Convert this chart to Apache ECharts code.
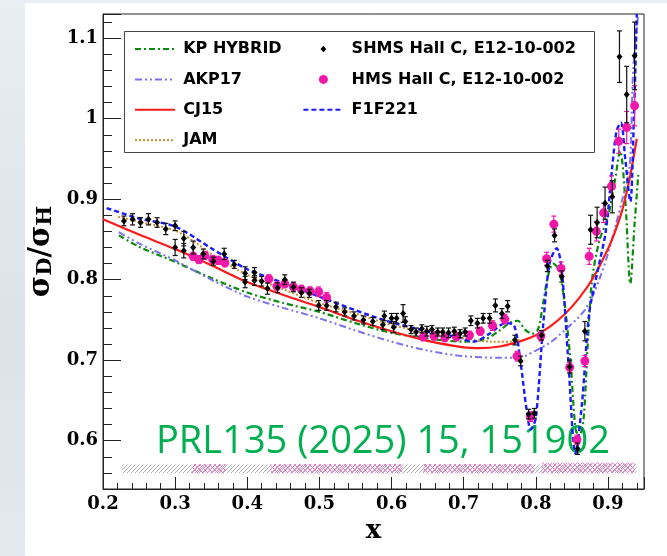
<!DOCTYPE html>
<html><head><meta charset="utf-8">
<script src="https://cdn.jsdelivr.net/npm/echarts@6.0.0/dist/echarts.min.js"></script>
<style>
html,body{margin:0;padding:0;width:667px;height:556px;overflow:hidden;background:linear-gradient(180deg,#e8eef2 0%,#dbe3e9 60%,#e3e9ee 100%);}
#chart{position:absolute;left:0;top:0;width:667px;height:556px;}
</style></head><body>
<div id="chart"></div>
<script>
// ---------------- data ----------------
const shmsX = [0.229,0.241,0.252,0.263,0.275,0.287,0.300,0.300,0.312,0.312,
  0.325,0.339,0.353,0.368,0.382,0.397,0.397,0.410,0.410,0.420,
  0.428,0.442,0.452,0.464,0.475,0.486,0.499,0.510,0.523,0.535,
  0.548,0.561,0.574,0.588,0.590,0.600,0.603,0.607,0.616,0.619,
  0.627,0.634,0.642,0.649,0.656,0.664,0.671,0.679,0.687,0.695,
  0.702,0.710,0.719,0.727,0.736,0.744,0.753,0.761,0.771,0.779,
  0.790,0.798,0.808,0.816,0.826,0.836,0.847,0.858,0.868,0.876,
  0.885,0.896,0.906,0.916,0.926,0.937];
const shmsY = [0.873,0.875,0.871,0.875,0.871,0.863,0.867,0.840,0.851,0.836,
  0.840,0.832,0.823,0.832,0.819,0.808,0.797,0.809,0.799,0.798,
  0.789,0.790,0.800,0.791,0.784,0.783,0.768,0.768,0.766,0.760,
  0.755,0.750,0.748,0.744,0.755,0.752,0.741,0.752,0.758,0.748,
  0.738,0.735,0.739,0.736,0.738,0.735,0.735,0.734,0.736,0.733,
  0.735,0.749,0.746,0.752,0.752,0.768,0.758,0.767,0.725,0.699,
  0.633,0.634,0.731,0.817,0.855,0.804,0.692,0.590,0.736,0.862,
  0.871,0.895,0.903,1.077,1.030,1.078];
const shmsErr = [0.006,0.007,0.006,0.007,0.006,0.007,0.006,0.010,0.009,0.009,
  0.008,0.006,0.005,0.007,0.005,0.008,0.007,0.006,0.006,0.006,
  0.007,0.006,0.006,0.006,0.006,0.005,0.006,0.006,0.006,0.005,
  0.005,0.005,0.005,0.006,0.006,0.006,0.007,0.006,0.011,0.006,
  0.005,0.005,0.005,0.006,0.005,0.005,0.005,0.006,0.005,0.005,
  0.005,0.006,0.006,0.006,0.006,0.008,0.006,0.007,0.006,0.006,
  0.006,0.006,0.006,0.007,0.008,0.007,0.008,0.007,0.012,0.018,
  0.019,0.020,0.020,0.032,0.035,0.042];

const hmsX = [0.325,0.333,0.341,0.352,0.360,0.369,0.430,0.441,0.452,0.464,
  0.475,0.487,0.499,0.510,0.644,0.659,0.674,0.690,0.708,0.723,
  0.740,0.757,0.774,0.793,0.807,0.815,0.825,0.835,0.847,0.857,
  0.868,0.874,0.884,0.894,0.905,0.915,0.926,0.937];
const hmsY = [0.829,0.825,0.830,0.825,0.824,0.821,0.801,0.792,0.795,0.791,
  0.788,0.786,0.785,0.778,0.729,0.730,0.728,0.729,0.731,0.736,
  0.743,0.751,0.705,0.630,0.730,0.826,0.869,0.814,0.691,0.601,
  0.699,0.829,0.860,0.883,0.916,0.972,0.989,1.016];
const hmsErr = [0.005,0.005,0.005,0.005,0.005,0.005,0.005,0.005,0.005,0.005,
  0.005,0.005,0.006,0.006,0.005,0.005,0.005,0.005,0.005,0.005,
  0.006,0.006,0.006,0.006,0.006,0.008,0.010,0.008,0.006,0.006,
  0.007,0.010,0.012,0.012,0.013,0.015,0.020,0.025];

// systematic bands (bins: start x, end x, height above base)
const sysBase = 0.5595;
const shmsSysX0 = [0.226,0.30,0.40,0.50,0.60,0.70,0.80,0.87];
const shmsSysX1 = [0.30,0.40,0.50,0.60,0.70,0.80,0.87,0.94];
const shmsSysH  = [0.011,0.011,0.011,0.011,0.011,0.011,0.011,0.012];
const hmsSysX0 = [0.323,0.432,0.644,0.808];
const hmsSysX1 = [0.370,0.615,0.798,0.937];
const hmsSysH  = [0.0115,0.0115,0.0115,0.0135];

// model curves
const kpX = [0.222,0.25,0.3,0.35,0.4,0.45,0.5,0.55,0.6,0.65,0.7,0.73,0.75,0.765,0.775,0.785,0.795,0.803,0.81,0.817,0.824,0.832,0.84,0.848,0.855,0.86,0.866,0.872,0.878,0.888,0.9,0.91,0.917,0.924,0.931,0.937,0.942];
const kpY = [0.855,0.841,0.822,0.802,0.784,0.771,0.760,0.746,0.734,0.727,0.723,0.726,0.737,0.747,0.749,0.738,0.733,0.738,0.770,0.805,0.820,0.812,0.770,0.700,0.615,0.605,0.625,0.720,0.800,0.848,0.878,0.925,0.960,0.900,0.795,0.870,0.930];

const akpX = [0.222,0.25,0.3,0.35,0.4,0.45,0.5,0.55,0.6,0.65,0.7,0.75,0.78,0.8,0.82,0.84,0.86,0.87,0.88,0.89,0.9,0.91,0.92,0.93,0.935,0.942];
const akpY = [0.859,0.845,0.824,0.800,0.779,0.765,0.752,0.737,0.723,0.712,0.705,0.703,0.704,0.712,0.722,0.737,0.754,0.765,0.782,0.805,0.832,0.865,0.900,0.940,1.060,1.130];

const cjX = [0.2,0.25,0.3,0.35,0.4,0.45,0.5,0.55,0.6,0.65,0.7,0.72,0.75,0.78,0.8,0.82,0.84,0.86,0.88,0.9,0.91,0.92,0.93,0.94];
const cjY = [0.875,0.856,0.838,0.818,0.797,0.781,0.766,0.750,0.736,0.724,0.716,0.715,0.717,0.724,0.731,0.742,0.757,0.777,0.803,0.838,0.860,0.887,0.925,0.975];

const jamX = [0.221,0.25,0.3,0.33,0.35,0.4,0.45,0.5,0.55,0.6,0.65,0.7,0.74,0.77,0.78];
const jamY = [0.878,0.872,0.861,0.845,0.832,0.806,0.788,0.771,0.758,0.744,0.734,0.727,0.723,0.723,0.726];

const f1X = [0.205,0.25,0.3,0.35,0.4,0.45,0.5,0.55,0.6,0.65,0.69,0.714,0.736,0.758,0.77,0.779,0.787,0.793,0.8,0.81,0.819,0.829,0.836,0.845,0.855,0.864,0.874,0.886,0.897,0.906,0.912,0.918,0.924,0.931,0.936,0.94];
const f1Y = [0.889,0.876,0.866,0.839,0.813,0.796,0.779,0.762,0.747,0.736,0.729,0.723,0.733,0.746,0.743,0.696,0.640,0.614,0.628,0.741,0.820,0.839,0.812,0.700,0.584,0.646,0.758,0.812,0.860,0.940,0.985,0.995,0.950,0.897,1.000,1.130];

// tick label values
const xTickLabels = [0.2,0.3,0.4,0.5,0.6,0.7,0.8,0.9];
const yTickLabels = [0.6,0.7,0.8,0.9,1.0,1.1];

// ---------------- helpers ----------------
const zip = (xs, ys) => xs.map((x, i) => [x, ys[i]]);
function makeHatch(color, cross, size) {
  const c = document.createElement('canvas');
  c.width = size; c.height = size;
  const g = c.getContext('2d');
  g.strokeStyle = color; g.lineWidth = 1;
  g.beginPath();
  g.moveTo(0, size); g.lineTo(size, 0);
  g.moveTo(-size, size); g.lineTo(size, -size);
  g.moveTo(0, 2*size); g.lineTo(2*size, 0);
  if (cross) {
    g.moveTo(0, 0); g.lineTo(size, size);
    g.moveTo(-size, 0); g.lineTo(size, 2*size);
    g.moveTo(0, -size); g.lineTo(2*size, size);
  }
  g.stroke();
  return c;
}
const grayHatch = makeHatch('rgba(120,120,120,0.6)', false, 4);
const pinkHatch = makeHatch('rgba(236,100,205,0.8)', true, 5);

function labelFmt(v) {
  const r = Math.round(v * 10);
  if (Math.abs(v * 10 - r) > 1e-6) return '';
  const show = xTickLabels.concat(yTickLabels).some(t => Math.abs(t - r / 10) < 1e-9);
  return show ? String(r / 10) : '';
}

function bandRender(pattern) {
  return function (params, api) {
    const x0 = api.value(0), x1 = api.value(1), h = api.value(2);
    const p0 = api.coord([x0, sysBase]);
    const p1 = api.coord([x1, sysBase + h]);
    return { type: 'rect',
      shape: { x: p0[0], y: p1[1], width: p1[0] - p0[0], height: p0[1] - p1[1] },
      style: { fill: { image: pattern, repeat: 'repeat' } } };
  };
}
function errRender(color, cap) {
  return function (params, api) {
    const x = api.value(0), y = api.value(1), e = api.value(2);
    const t = api.coord([x, y + e]);
    const b = api.coord([x, y - e]);
    const st = { stroke: color, lineWidth: 1.2 };
    return { type: 'group', children: [
      { type: 'line', shape: { x1: t[0], y1: t[1], x2: b[0], y2: b[1] }, style: st },
      { type: 'line', shape: { x1: t[0] - cap, y1: t[1], x2: t[0] + cap, y2: t[1] }, style: st },
      { type: 'line', shape: { x1: b[0] - cap, y1: b[1], x2: b[0] + cap, y2: b[1] }, style: st }
    ] };
  };
}

const SERIF = 'DejaVu Serif';
const SANS = 'DejaVu Sans';
const C_KP = '#0a8a0a', C_AKP = '#7c72f0', C_CJ = '#ff1a1a', C_JAM = '#c9902e', C_F1 = '#1a1aff';
const C_HMS = '#f217a8';

const chart = echarts.init(document.getElementById('chart'), null, { renderer: 'canvas' });
const axisLbl = { fontFamily: SERIF, fontWeight: 'bold', fontSize: 18, color: '#000', formatter: labelFmt };
const noSym = { opacity: 0 };

chart.setOption({
  animation: false,
  backgroundColor: 'transparent',
  grid: [
    { left: 103, right: 23, top: 14, bottom: 67, show: true, borderColor: '#222', borderWidth: 1 },
    { left: 103, right: 23, top: 14, bottom: 67, show: false }
  ],
  xAxis: [
    { type: 'value', gridIndex: 0, min: 0.2, max: 0.95, interval: 0.1,
      axisLine: { show: true, onZero: false, lineStyle: { color: '#222', width: 1 } },
      axisTick: { inside: true, length: 12, lineStyle: { color: '#222', width: 1 } },
      axisLabel: Object.assign({ margin: 6 }, axisLbl),
      splitLine: { show: false },
      name: 'x', nameLocation: 'middle', nameGap: 28,
      nameTextStyle: { fontFamily: SERIF, fontWeight: 'bold', fontSize: 26, color: '#000' } },
    { type: 'value', gridIndex: 1, min: 0.2, max: 0.95, interval: 0.02,
      axisLine: { show: false }, axisLabel: { show: false }, splitLine: { show: false },
      axisTick: { inside: true, length: 6, lineStyle: { color: '#222', width: 1 } } }
  ],
  yAxis: [
    { type: 'value', gridIndex: 0, min: 0.54, max: 1.13, minInterval: 0.1, maxInterval: 0.1,
      axisLine: { show: true, onZero: false, lineStyle: { color: '#222', width: 1 } },
      axisTick: { inside: true, length: 18, lineStyle: { color: '#222', width: 1 } },
      axisLabel: Object.assign({ margin: 5 }, axisLbl),
      splitLine: { show: false },
      name: '{s|σ}{sub|D}{s|/σ}{sub|H}', nameLocation: 'middle', nameRotate: 90, nameGap: 42,
      nameTextStyle: { rich: {
        s: { fontFamily: SERIF, fontWeight: 'bold', fontSize: 29, lineHeight: 29, color: '#000', verticalAlign: 'top' },
        sub: { fontFamily: SERIF, fontWeight: 'bold', fontSize: 21, lineHeight: 21, color: '#000', verticalAlign: 'bottom', padding: [16, 0, 0, 0] }
      } } },
    { type: 'value', gridIndex: 1, min: 0.54, max: 1.13, interval: 0.02,
      axisLine: { show: false }, axisLabel: { show: false }, splitLine: { show: false },
      axisTick: { inside: true, length: 9, lineStyle: { color: '#222', width: 1 } } }
  ],
  legend: {
    orient: 'vertical', left: 134, top: 41, height: 122, padding: 0,
    itemWidth: 40, itemHeight: 9, itemGap: 14.4, selectedMode: false,
    formatter: function (name) { return '\u2009' + name + '\u2009\u2009'; },
    textStyle: { fontFamily: SANS, fontWeight: 'bold', fontSize: 16, color: '#000' },
    data: [
      { name: 'KP HYBRID', itemStyle: noSym }, { name: 'AKP17', itemStyle: noSym },
      { name: 'CJ15', itemStyle: noSym }, { name: 'JAM', itemStyle: noSym },
      { name: 'SHMS Hall C, E12-10-002', icon: 'path://M0,0M10,10M1.8,5L5,1.5L8.2,5L5,8.5Z' },
      { name: 'HMS Hall C, E12-10-002', icon: 'circle' },
      { name: 'F1F221', itemStyle: noSym }
    ]
  },
  graphic: [
    { type: 'rect', z: -10, silent: true, shape: { x: 25, y: 3, width: 642, height: 553 }, style: { fill: '#ffffff' } },
    { type: 'rect', z: 3, silent: true, shape: { x: 124.5, y: 31.5, width: 470, height: 121 }, style: { fill: '#ffffff', stroke: '#444', lineWidth: 1 } },
    { type: 'text', z: 1, silent: true, x: 156, y: 442,
      style: { text: 'PRL135 (2025) 15, 151902', fill: '#00b050', font: '38px "Open Sans"', verticalAlign: 'middle', textVerticalAlign: 'middle' } }
  ],
  series: [
    { type: 'custom', name: 'shmsSys', z: 1, silent: true, renderItem: bandRender(grayHatch),
      encode: { x: [0, 1], y: 2 },
      data: shmsSysX0.map((x0, i) => [x0, shmsSysX1[i], shmsSysH[i]]) },
    { type: 'custom', name: 'hmsSys', z: 1, silent: true, renderItem: bandRender(pinkHatch),
      encode: { x: [0, 1], y: 2 },
      data: hmsSysX0.map((x0, i) => [x0, hmsSysX1[i], hmsSysH[i]]) },
    { type: 'line', name: 'KP HYBRID', z: 2, data: zip(kpX, kpY), symbol: 'none', smooth: 0.3,
      itemStyle: { color: C_KP }, lineStyle: { color: C_KP, width: 2.2, type: [6, 3, 2, 3] } },
    { type: 'line', name: 'AKP17', z: 2, data: zip(akpX, akpY), symbol: 'none', smooth: 0.3,
      itemStyle: { color: C_AKP }, lineStyle: { color: C_AKP, width: 2, type: [7, 3, 2, 3, 2, 3] } },
    { type: 'line', name: 'CJ15', z: 2, data: zip(cjX, cjY), symbol: 'none', smooth: 0.3,
      itemStyle: { color: C_CJ }, lineStyle: { color: C_CJ, width: 2.2, type: 'solid' } },
    { type: 'line', name: 'JAM', z: 2, data: zip(jamX, jamY), symbol: 'none', smooth: 0.3,
      itemStyle: { color: C_JAM }, lineStyle: { color: C_JAM, width: 2, type: [2, 2] } },
    { type: 'line', name: 'F1F221', z: 2, data: zip(f1X, f1Y), symbol: 'none', smooth: 0.3,
      itemStyle: { color: C_F1 }, lineStyle: { color: C_F1, width: 2.4, type: [5, 3] } },
    { type: 'custom', name: 'hmsErr', z: 3, silent: true, renderItem: errRender(C_HMS, 2.5),
      encode: { x: 0, y: 1 }, data: hmsX.map((x, i) => [x, hmsY[i], hmsErr[i]]) },
    { type: 'scatter', name: 'HMS Hall C, E12-10-002', z: 4, symbol: 'circle', symbolSize: 9,
      itemStyle: { color: C_HMS, opacity: 1 }, data: zip(hmsX, hmsY) },
    { type: 'custom', name: 'shmsErr', z: 5, silent: true, renderItem: errRender('#111', 2.5),
      encode: { x: 0, y: 1 }, data: shmsX.map((x, i) => [x, shmsY[i], shmsErr[i]]) },
    { type: 'scatter', name: 'SHMS Hall C, E12-10-002', z: 6, symbol: 'diamond', symbolSize: [6, 7],
      itemStyle: { color: '#000', opacity: 1 }, data: zip(shmsX, shmsY) }
  ]
});
</script>
</body></html>
